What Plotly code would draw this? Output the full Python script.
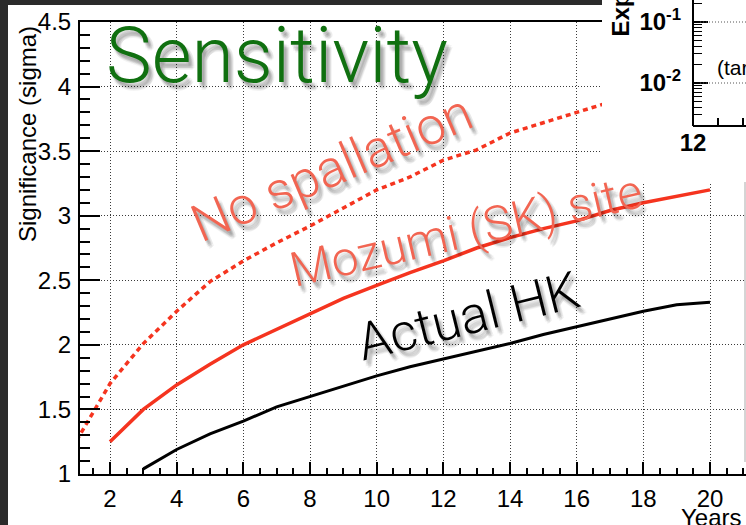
import plotly.graph_objects as go

# ---------------- data ----------------
years_nospall = [1, 2, 3, 4, 5, 6, 7, 8, 9, 10, 11, 12, 13, 14, 15, 16, 17]
sig_nospall = [1.26, 1.70, 2.01, 2.26, 2.49, 2.65, 2.79, 2.92, 3.06, 3.20, 3.30, 3.43, 3.51, 3.64, 3.72, 3.80, 3.88]

years_mozumi = [2, 3, 4, 5, 6, 7, 8, 9, 10, 11, 12, 13, 14, 15, 16, 17, 18, 19, 20]
sig_mozumi = [1.25, 1.50, 1.69, 1.85, 2.00, 2.12, 2.24, 2.36, 2.46, 2.56, 2.65, 2.75, 2.83, 2.90, 2.96, 3.04, 3.10, 3.15, 3.20]

years_hk = [3, 4, 5, 6, 7, 8, 9, 10, 11, 12, 13, 14, 15, 16, 17, 18, 19, 20]
sig_hk = [1.04, 1.19, 1.31, 1.41, 1.52, 1.60, 1.68, 1.76, 1.83, 1.89, 1.95, 2.01, 2.08, 2.14, 2.20, 2.26, 2.31, 2.33]

# cut-off neighbouring chart (only its corner is visible)
inset_tickvals = [0.01, 0.1]
inset_ticktext = ["10<sup>-2</sup>", "10<sup>-1</sup>"]
inset_minor = [0.003, 0.004, 0.005, 0.006, 0.007, 0.008, 0.009,
               0.02, 0.03, 0.04, 0.05, 0.06, 0.07, 0.08, 0.09,
               0.2, 0.3]

W, H = 746, 525
FONT = "Liberation Sans, Arial, Helvetica, sans-serif"
SLIDE_FONT = "Roboto, Liberation Sans, Arial, sans-serif"


def px(x):
    return x / W


def py(y):
    return 1 - y / H


RED_LINE = "#f5341f"
RED_TEXT = "#f26552"
GREEN = "#107010"

fig = go.Figure()
fig.add_trace(go.Scatter(x=years_nospall, y=sig_nospall, mode="lines",
                         line=dict(color=RED_LINE, width=3.5, dash="5px,4px"),
                         hoverinfo="skip"))
fig.add_trace(go.Scatter(x=years_mozumi, y=sig_mozumi, mode="lines",
                         line=dict(color=RED_LINE, width=3.5), hoverinfo="skip"))
fig.add_trace(go.Scatter(x=years_hk, y=sig_hk, mode="lines",
                         line=dict(color="black", width=3), hoverinfo="skip"))
# empty trace to create the inset subplot
fig.add_trace(go.Scatter(x=[], y=[], xaxis="x2", yaxis="y2", hoverinfo="skip"))

grid = dict(showgrid=True, gridcolor="#3a3a3a", gridwidth=1, griddash="1px,2px")

fig.update_layout(
    width=W, height=H,
    margin=dict(l=0, r=0, t=0, b=0, pad=0),
    paper_bgcolor="white", plot_bgcolor="white",
    showlegend=False,
    font=dict(family=FONT, color="black"),
    xaxis=dict(domain=[px(80), 1], range=[1.1, 21.08], anchor="y", automargin=False,
               tick0=0, dtick=2, ticks="inside", ticklen=12, tickwidth=1.5,
               tickcolor="black", showline=True, linecolor="black", linewidth=2,
               mirror=True, zeroline=False, tickfont=dict(size=24, family=FONT),
               ticklabelstandoff=2,
               minor=dict(dtick=0.5, tick0=0, ticks="inside", ticklen=6,
                          tickwidth=1.5, tickcolor="black", showgrid=False),
               **grid),
    yaxis=dict(domain=[py(474), py(22)], range=[1, 4.5], anchor="x", automargin=False,
               tick0=1, dtick=0.5, ticks="inside", ticklen=20, tickwidth=1.5,
               tickcolor="black", showline=True, linecolor="black", linewidth=2,
               mirror=False, zeroline=False, tickfont=dict(size=24, family=FONT),
               ticklabelstandoff=2,
               minor=dict(dtick=0.1, tick0=1, ticks="inside", ticklen=10,
                          tickwidth=1.5, tickcolor="black", showgrid=False),
               **grid),
    xaxis2=dict(domain=[px(602), 1], range=[11.09, 12.53], anchor="free", automargin=False,
                position=py(126), tickvals=[12], ticktext=["12"],
                ticks="inside", ticklen=10, tickwidth=1.5, tickcolor="black",
                showline=False, showgrid=False, zeroline=False,
                tickfont=dict(size=24, family=FONT, weight="bold"),
                minor=dict(tickvals=[12.25, 12.5], ticks="inside", ticklen=8,
                           tickwidth=1.5, tickcolor="black", showgrid=False)),
    yaxis2=dict(domain=[py(182), 1], type="log", range=[-3.623, -0.6393], automargin=False,
                anchor="free", position=px(693),
                tickvals=inset_tickvals, ticktext=inset_ticktext,
                ticks="inside", ticklen=14, tickwidth=1.5, tickcolor="black",
                showline=False, showgrid=False, zeroline=False,
                ticklabelstandoff=12,
                tickfont=dict(size=24, family=FONT, weight="bold"),
                minor=dict(tickvals=inset_minor, ticks="inside", ticklen=8,
                           tickwidth=1.2, tickcolor="black", showgrid=False)),
)

shapes = [
    # dark slide background strips
    dict(type="rect", xref="paper", yref="paper", x0=0, x1=px(8), y0=0, y1=1,
         fillcolor="#2b2b2b", line=dict(width=0), layer="above"),
    dict(type="rect", xref="paper", yref="paper", x0=0, x1=px(602), y0=py(5), y1=1,
         fillcolor="#2b2b2b", line=dict(width=0), layer="above"),
    # inset frame corner
    dict(type="line", xref="paper", yref="paper", x0=px(693), x1=px(693), y0=py(126), y1=1,
         line=dict(color="black", width=2), layer="above"),
    dict(type="line", xref="paper", yref="paper", x0=px(693), x1=1, y0=py(126), y1=py(126),
         line=dict(color="black", width=2), layer="above"),
    dict(type="line", xref="paper", yref="paper", x0=px(700), x1=1, y0=py(22), y1=py(22),
         line=dict(color="#555", width=1, dash="1px,2px"), layer="above"),
    dict(type="line", xref="paper", yref="paper", x0=px(700), x1=1, y0=py(83), y1=py(83),
         line=dict(color="#555", width=1, dash="1px,2px"), layer="above"),
    dict(type="line", xref="paper", yref="paper", x0=px(745), x1=px(745), y0=py(462), y1=py(182),
         line=dict(color="#aaaaaa", width=1), layer="above"),
]
fig.update_layout(shapes=shapes)

SHADOW_OFFSETS = [(1, 2), (2, 4), (3, 5), (4, 6), (5, 7), (3, 3), (2, 6),
                  (5, 4), (4, 8), (6, 6)]


def slide_text(x, y, text, size, color, angle=0, xanchor="center", yanchor="middle",
               shadow=True):
    if shadow:
        for dx, dy in SHADOW_OFFSETS:
            fig.add_annotation(x=px(x), y=py(y), xref="paper", yref="paper",
                               text=text, showarrow=False, textangle=angle,
                               xanchor=xanchor, yanchor=yanchor,
                               xshift=dx, yshift=-dy,
                               font=dict(size=size, family=SLIDE_FONT, weight=300,
                                         color="rgba(0,0,0,0.045)"))
    fig.add_annotation(x=px(x), y=py(y), xref="paper", yref="paper",
                       text=text, showarrow=False, textangle=angle,
                       xanchor=xanchor, yanchor=yanchor,
                       font=dict(size=size, family=SLIDE_FONT, weight=300, color=color))


slide_text(104, 56, "Sensitivity", 77, GREEN, xanchor="left")
slide_text(331, 168, "No spallation", 52, RED_TEXT, angle=-23)
slide_text(466, 230, "Mozumi (SK) site", 48, RED_TEXT, angle=-13)
slide_text(468, 316, "Actual HK", 52, "black", angle=-14)

# axis titles
fig.add_annotation(x=px(27), y=py(134), xref="paper", yref="paper",
                   text="Significance (sigma)", showarrow=False, textangle=-90,
                   xanchor="center", yanchor="middle",
                   font=dict(size=24, family=FONT, color="black"))
fig.add_annotation(x=px(679), y=py(502), xref="paper", yref="paper",
                   text="Years", showarrow=False, xanchor="left", yanchor="top",
                   font=dict(size=24, family=FONT, color="black"))

# inset chart texts (cut off by the window)
fig.add_annotation(x=px(620), y=py(39), xref="paper", yref="paper",
                   text="<b>Expected events</b>", showarrow=False, textangle=-90,
                   xanchor="center", yanchor="bottom",
                   font=dict(size=24, family=FONT, color="black"))
fig.add_annotation(x=px(715), y=py(68), xref="paper", yref="paper",
                   text="(target mass)", showarrow=False,
                   xanchor="left", yanchor="middle",
                   font=dict(size=21, family=FONT, color="black"))

fig.write_html("out.html")
